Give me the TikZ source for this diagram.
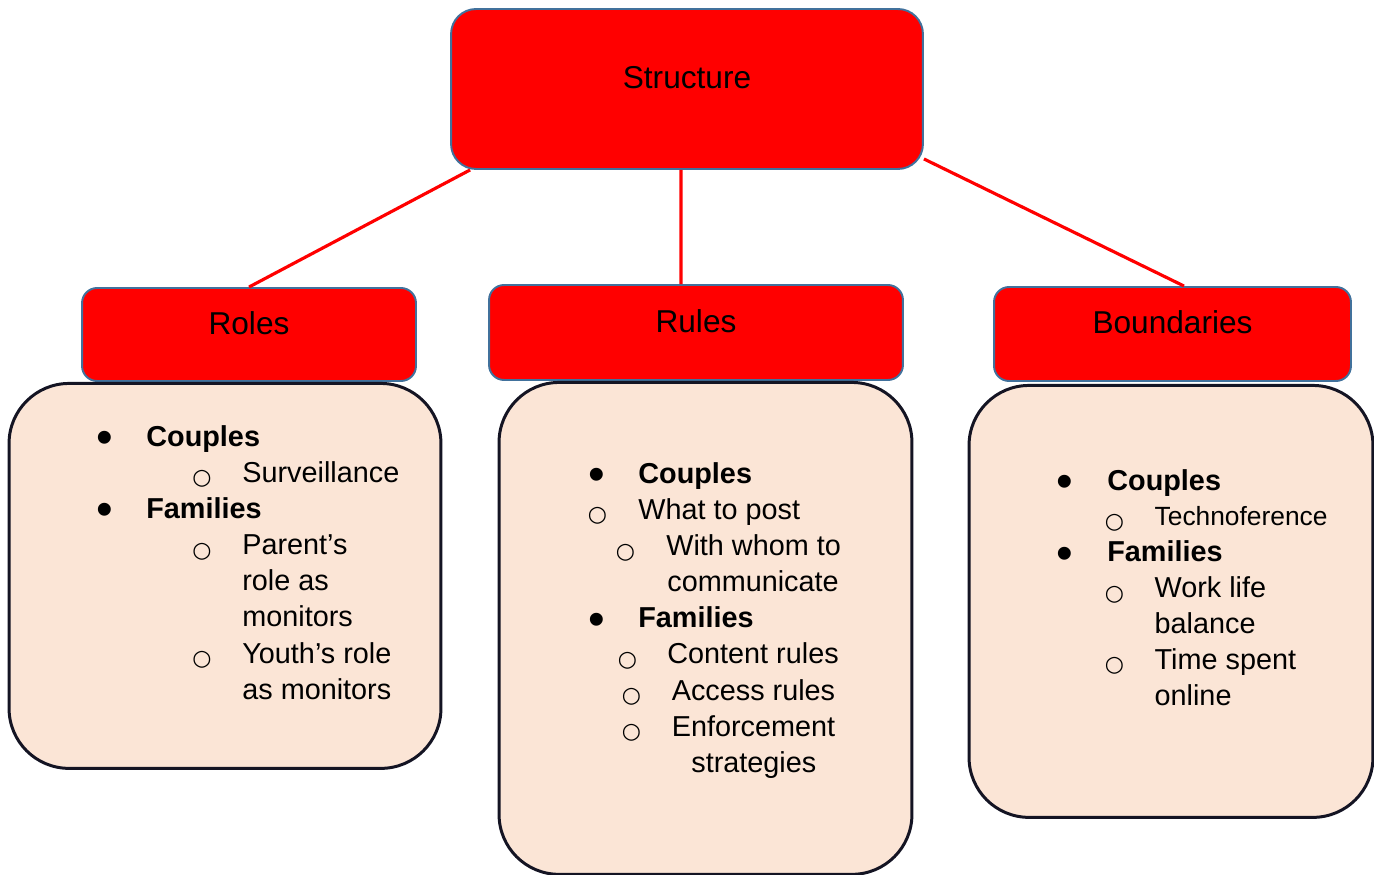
\documentclass[tikz,border=0pt]{standalone}
\usepackage{fontspec}
\setmainfont{Liberation Sans}
\newfontfamily\symfnt{DejaVu Sans}
\usetikzlibrary{positioning}
\definecolor{headred}{RGB}{255,0,0}
\definecolor{headline}{RGB}{65,113,156}
\definecolor{peach}{RGB}{251,229,214}
\definecolor{boxline}{RGB}{20,20,35}
\newlength\px
\setlength\px{0.02cm}
% list marks
\newcommand\fullmark{\raisebox{-4.2pt}{\scalebox{1.65}{\textbullet}}}
\newcommand\openmark{\raisebox{-1.5pt}{\fontsize{12.5}{13}\symfnt ○}}
% list lines: mark centre, text start (in px from the node), text
\newcommand\fullitem[3]{\makebox[0pt][l]{\hspace*{#1\px}\makebox[0pt]{\fullmark}}\hspace*{#2\px}#3}
\newcommand\openitem[3]{\makebox[0pt][l]{\hspace*{#1\px}\makebox[0pt]{\openmark}}\hspace*{#2\px}#3}
\newcommand\moreitem[2]{\hspace*{#1\px}#2}
\tikzset{
    %Define style for the red headings
    head/.style={
           rectangle,
           rounded corners=0.3cm,
           draw=headline, line width=1.1pt,
           fill=headred,
           inner sep=0pt,
           text height=0.3cm,
           text depth=0.3cm,
           font=\fontsize{18}{22}\selectfont},
    %Define style for the list boxes
    content/.style={
           rectangle,
           rounded corners=1.2cm,
           draw=boxline, line width=1.7pt,
           fill=peach,
           inner sep=0pt},
    listtext/.style={
           anchor=base west,
           inner sep=0pt,
           font=\fontsize{16.4}{20.6}\selectfont},
    % Define line style
    link/.style={
           draw=red,
           line width=1.8pt}
}
\begin{document}
\begin{tikzpicture}[x=0.02cm,y=-0.02cm]
\useasboundingbox (0,0) rectangle (1374,875);
\node[head, rounded corners=0.5cm, minimum width=9.44cm, minimum height=3.2cm](struct) at (687,89){Structure};
\node[head, minimum width=6.68cm, minimum height=1.86cm](roles) at (249,334.5){Roles};
\node[head, minimum width=8.28cm, minimum height=1.9cm](rules) at (696,332.5){Rules};
\node[head, minimum width=7.14cm, minimum height=1.88cm](bounds) at (1172.5,334){Boundaries};
\node[content, below=0pt of roles, xshift=-0.48cm, minimum width=8.64cm, minimum height=7.7cm](rolesbox){};
\node[content, below=0pt of rules, xshift=0.19cm, minimum width=8.26cm, minimum height=9.84cm](rulesbox){};
\node[content, below=0.04cm of bounds, xshift=-0.03cm, minimum width=8.08cm, minimum height=8.64cm](boundsbox){};
\draw[link] ([xshift=0.4cm]struct.south west) -- (roles.north);
\draw[link] ([xshift=-0.12cm]struct.south) -- ([xshift=-0.3cm]rules.north);
\draw[link] ([yshift=0.22cm]struct.south east) -- ([xshift=0.23cm]bounds.north);
\node[listtext](rolestext) at (9,446){\parbox[t]{9cm}{%
  \fullitem{95}{137}{\textbf{Couples}}\\
  \openitem{192.7}{233}{Surveillance}\\
  \fullitem{95}{137}{\textbf{Families}}\\
  \openitem{192.7}{233}{Parent’s}\\
  \moreitem{233}{role as}\\
  \moreitem{233}{monitors}\\
  \openitem{192.7}{233}{Youth’s role}\\
  \moreitem{233}{as monitors}}};
\node[listtext](rulestext) at (499,483){\parbox[t]{9cm}{%
  \fullitem{97}{139}{\textbf{Couples}}\\
  \openitem{98}{139}{What to post}\\
  \openitem{126}{167}{With whom to}\\
  \moreitem{168}{communicate}\\
  \fullitem{97}{139}{\textbf{Families}}\\
  \openitem{128}{168}{Content rules}\\
  \openitem{132}{172.5}{Access rules}\\
  \openitem{132}{172.5}{Enforcement}\\
  \moreitem{192}{strategies}}};
\node[listtext, font=\fontsize{16.4}{20.4}\selectfont](boundstext) at (969,490){\parbox[t]{9cm}{%
  \fullitem{95.3}{138}{\textbf{Couples}}\\
  \openitem{145}{185.3}{{\fontsize{15}{20}\selectfont Technoference}}\\
  \fullitem{95.3}{138}{\textbf{Families}}\\
  \openitem{145}{185.3}{Work life}\\
  \moreitem{185.3}{balance}\\
  \openitem{145}{185.3}{Time spent}\\
  \moreitem{185.3}{online}}};
\end{tikzpicture}
\end{document}
